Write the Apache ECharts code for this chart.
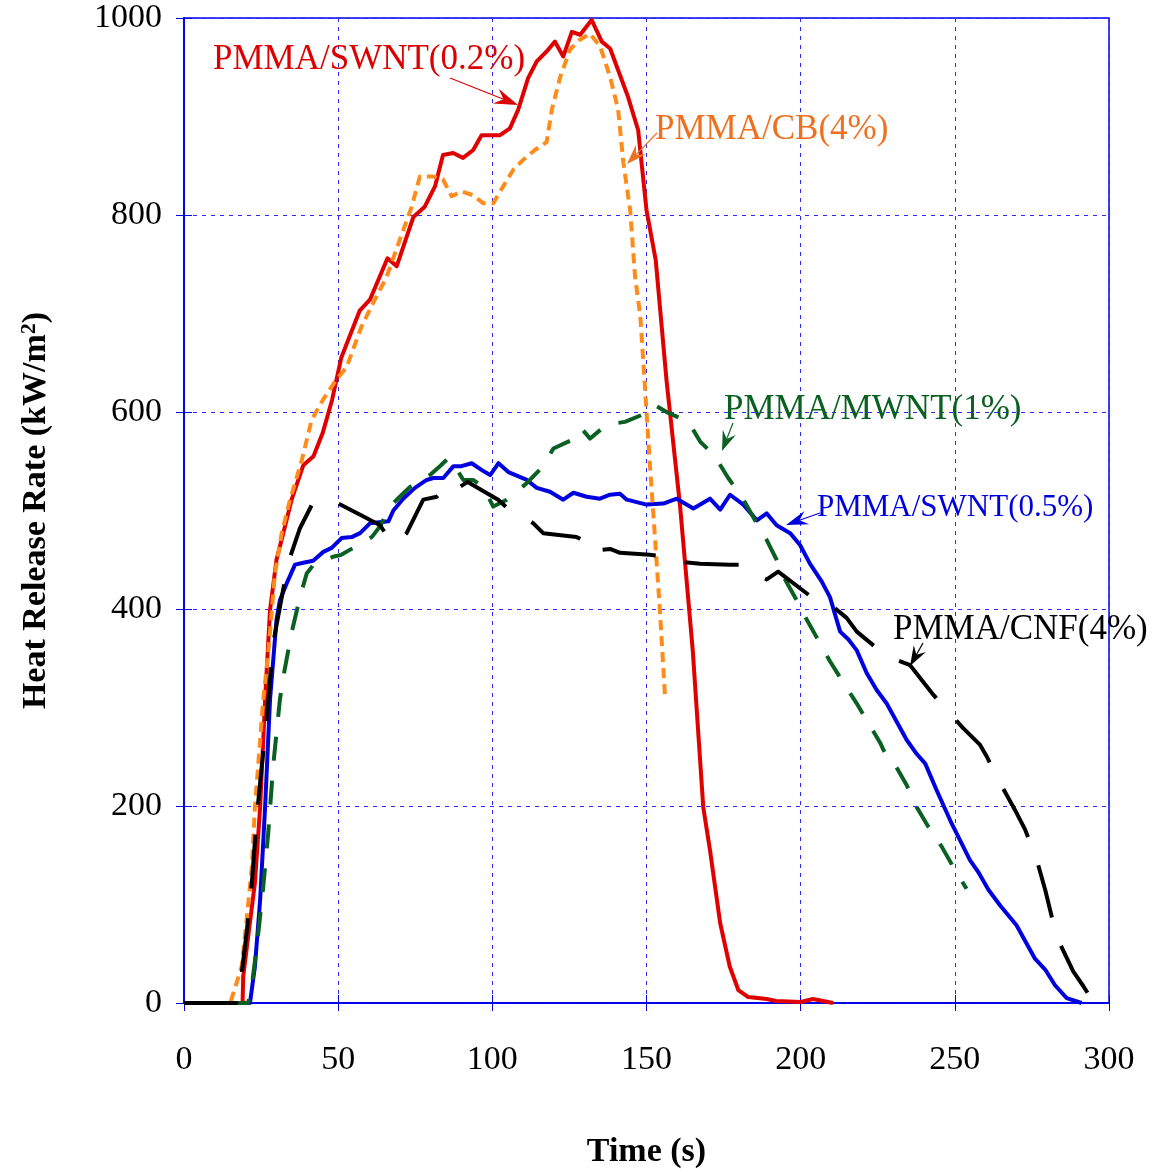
<!DOCTYPE html>
<html><head><meta charset="utf-8">
<script src="https://cdn.jsdelivr.net/npm/echarts@6/dist/echarts.min.js"></script>
<style>html,body{margin:0;padding:0;background:#fff}#c{width:1157px;height:1172px}</style>
</head><body><div id="c"></div>
<script>
// Time (s) vs Heat Release Rate (kW/m2)
const swnt02 = [[0,0],[19,0],[19.2,27],[23,122],[24.7,199],[26.3,308],[27.9,399],[30,450],[32.2,477],[34.9,511],[38.7,546],[42,555],[45,579],[48,612],[51,655],[57,703],[60.3,714],[66,756],[69,748],[74.4,798],[78,808],[81.4,829],[84,861],[87.3,863],[90.5,858],[93.8,866],[96.5,881],[102.5,881],[105.7,888],[108.4,907],[111.6,939],[114.4,956],[117.6,966],[120.3,976],[123,961],[125.8,986],[128.5,983],[132.2,998],[135.5,976],[138.2,969],[144,920],[147.3,886],[150,805],[153,754],[156.5,632],[160.9,504],[165,358],[168.4,199],[170.6,155],[173.9,81],[177,37],[179.8,13],[183,6],[189,4],[192,2],[200,1],[204,4],[210.5,0]];
const cb4 = [[0,0],[15,0],[18.7,37],[20.3,84],[22,138],[23,199],[24.7,267],[25.7,308],[27.3,355],[29.5,436],[31.7,477],[34.4,511],[38.2,551],[41.4,592],[45,612],[49,631],[52.8,646],[57.6,687],[61.4,711],[65.7,737],[70,775],[73.8,808],[76.5,839],[80.8,839],[84,836],[86.8,819],[90,824],[93.8,820],[97,812],[100.3,812],[103.5,829],[106.8,846],[110,856],[113.8,866],[117.6,874],[119.3,907],[122,940],[125.2,968],[128.4,978],[131.7,984],[135,971],[138.2,940],[140.8,907],[142.5,853],[144.7,805],[146.3,737],[148,697],[149.5,625],[151,551],[152.8,470],[154.4,396],[156,311]];
const cnf4 = [[0,0],[17,0],[18.7,30],[20.3,71],[22,122],[23.6,189],[25.2,240],[26.6,280],[28.9,365],[31.1,402],[33.8,447],[37.6,482],[42,509],[49.5,508],[57.6,495],[63.6,485],[66.3,472],[69,467],[72.2,477],[77.6,511],[82,514],[85.2,523],[87.3,529],[89.5,524],[92,529],[101.9,511],[105.7,500],[110,494],[113.3,487],[116.5,477],[127.3,473],[129.5,470],[132.2,457],[135,460],[138.2,461],[141.4,457],[151,455],[156.6,453],[160.9,448],[167.4,446],[177,445],[180.3,445],[185.7,435],[189,430],[192.7,438],[204,411],[210.6,402],[214.9,391],[218.2,377],[227.9,352],[235.5,343],[243,313],[252.7,279],[258.2,262],[260.4,250],[263.5,230],[269.5,196],[272.8,176],[276.6,145],[279.3,115],[281.4,88],[283.5,64],[288.4,32],[291.7,17],[293.9,6],[299.3,1],[300,0]];
const mwnt1 = [[0,0],[20.8,0],[22,17],[24.1,71],[25.7,118],[27.3,172],[28.9,240],[31.1,308],[32.2,331],[34.9,376],[37.6,412],[39.8,436],[42,445],[45,448],[48.3,453],[51,455],[58.2,468],[60.9,473],[63.6,484],[66.8,504],[70,514],[73.3,524],[79.8,536],[83,545],[85.7,553],[89,539],[90.6,531],[93.8,531],[97,524],[100.3,504],[104.7,511],[107.9,519],[111.2,528],[116.5,545],[119.8,563],[126.8,573],[129,583],[131.7,573],[137,587],[143,590],[150,599],[152.7,607],[157.1,599],[163.6,590],[167.4,570],[172.2,555],[176.5,533],[180.9,514],[185.2,490],[189,470],[192.2,450],[194.4,433],[198.7,409],[202,389],[206.3,365],[209.5,347],[213.9,325],[218.2,304],[222,284],[225.8,264],[227.9,250],[230.6,242],[234.4,221],[237.6,199],[241.4,179],[245.7,159],[249.5,138],[253.8,116]];
const swnt05 = [[0,0],[21.4,0],[23,37],[24.7,105],[26.3,199],[27.9,308],[30,389],[31.1,409],[33.3,426],[36,445],[38.7,447],[41.9,449],[45.2,458],[47.9,462],[51.1,472],[54.4,473],[57.1,477],[60.3,487],[66.3,489],[67.9,500],[71.1,512],[74.9,523],[78.7,531],[80.9,533],[84.1,533],[87.4,545],[90,545],[93.3,548],[96.6,541],[99.3,536],[102,548],[105.2,539],[111.2,531],[114.4,523],[118.7,519],[123,511],[126.3,518],[130.6,514],[134.9,512],[138.2,516],[141.4,517],[143.6,511],[150,506],[155.5,507],[159.8,512],[165.2,502],[170.6,512],[173.9,501],[177.1,516],[181.4,506],[185.8,490],[189,497],[192.2,485],[196.6,477],[199.8,465],[203,446],[206.8,428],[209.5,412],[212.8,377],[215.5,369],[218.2,358],[221.4,335],[224.6,318],[227.9,304],[234.4,267],[237.6,253],[240.4,243],[244.1,216],[249,182],[254.9,145],[257.6,133],[260.9,115],[264.7,99],[270,79],[276,45],[279.3,34],[282.5,18],[286.3,5],[291.1,0]];
const seriesNames = ['PMMA/SWNT(0.2%)','PMMA/CB(4%)','PMMA/MWNT(1%)','PMMA/SWNT(0.5%)','PMMA/CNF(4%)'];
const xRange = [0, 300, 50];
const yRange = [0, 1000, 200];

const FONT = 'Liberation Serif';
const chart = echarts.init(document.getElementById('c'), null, {renderer: 'canvas'});
const gridCol = '#2a2aff';

function axisCommon(){
  return {
    axisLine: {show: true, lineStyle: {color: '#0000ee', width: 1.5}},
    axisTick: {show: true, inside: true, length: 8, lineStyle: {color: '#0000ee', width: 1}},
    splitLine: {show: true, lineStyle: {color: gridCol, width: 1, type: [4, 5]}}
  };
}

function arrow(x1, y1, x2, y2, color, len, half, w){
  const L = Math.hypot(x2-x1, y2-y1), dx = (x2-x1)/L, dy = (y2-y1)/L, nx = -dy, ny = dx;
  const bx = x2 - dx*len, by = y2 - dy*len;
  const mx = x2 - dx*len*0.65, my = y2 - dy*len*0.65;
  return [
    {type: 'line', shape: {x1: x1, y1: y1, x2: mx, y2: my}, style: {stroke: color, lineWidth: w}, z: 100},
    {type: 'polygon', shape: {points: [[x2,y2],[bx+nx*half, by+ny*half],[mx,my],[bx-nx*half, by-ny*half]]}, style: {fill: color}, z: 100}
  ];
}
function label(text, x, y, color, size){
  return {type: 'text', x: x, y: y, z: 100, style: {text: text, fill: color, font: size + 'px "' + FONT + '"', textVerticalAlign: 'middle', textAlign: 'left'}};
}

const graphics = [].concat(
  label(seriesNames[0], 213, 60, '#dd0000', 35), arrow(450, 78, 518, 105, '#dd0000', 24, 8, 1.2),
  label(seriesNames[1], 655, 130, '#f07020', 35), arrow(657, 133, 627, 164, '#f07020', 20, 7, 1.2),
  label(seriesNames[2], 724, 410, '#0a6020', 35), arrow(733, 423, 722, 451, '#0a6020', 20, 7, 1.2),
  label(seriesNames[3], 817, 508, '#0000dd', 31), arrow(820, 513, 786, 525, '#0000dd', 22, 7, 1.2),
  label(seriesNames[4], 893, 630, '#000000', 35), arrow(923, 643, 910, 666, '#000000', 20, 7, 1.2)
);

function ser(name, data, color, width, type, z){
  return {name: name, type: 'line', data: data, showSymbol: false, symbol: 'none', z: z,
    lineStyle: {color: color, width: width, type: type, cap: 'butt', join: 'round'}, animation: false};
}

chart.setOption({
  animation: false,
  backgroundColor: '#fff',
  grid: {left: 184, right: 48, top: 18, bottom: 169, containLabel: false, outerBoundsMode: 'none',
    show: true, borderColor: '#0000ee', borderWidth: 1.5, backgroundColor: 'transparent'},
  xAxis: [Object.assign(axisCommon(), {
    type: 'value', min: xRange[0], max: xRange[1], interval: xRange[2], position: 'bottom',
    axisLabel: {fontFamily: FONT, fontSize: 34, color: '#000', margin: 40, formatter: v => String(v)},
    name: 'Time (s)', nameLocation: 'middle', nameGap: 132, nameMoveOverlap: false,
    nameTextStyle: {fontFamily: FONT, fontSize: 34, fontWeight: 'bold', color: '#000'}
  }), Object.assign(axisCommon(), {
    type: 'value', min: xRange[0], max: xRange[1], interval: xRange[2], position: 'top',
    axisLabel: {show: false}, splitLine: {show: false}
  })],
  yAxis: [Object.assign(axisCommon(), {
    type: 'value', min: yRange[0], max: yRange[1], interval: yRange[2], position: 'left',
    axisLabel: {fontFamily: FONT, fontSize: 34, color: '#000', margin: 22, formatter: v => String(v)},
    name: 'Heat Release Rate (kW/m{sup|2})', nameLocation: 'middle', nameGap: 130, nameMoveOverlap: false,
    nameTextStyle: {fontFamily: FONT, fontSize: 34, fontWeight: 'bold', color: '#000',
      rich: {sup: {fontFamily: FONT, fontSize: 22, fontWeight: 'bold', color: '#000', verticalAlign: 'top', padding: [0,0,14,0]}}}
  }), Object.assign(axisCommon(), {
    type: 'value', min: yRange[0], max: yRange[1], interval: yRange[2], position: 'right',
    axisLabel: {show: false}, splitLine: {show: false}
  })],
  series: [
    ser(seriesNames[0], swnt02, '#e00000', 4, 'solid', 2),
    ser(seriesNames[3], swnt05, '#0000e0', 4, 'solid', 3),
    ser(seriesNames[2], mwnt1, '#0a6020', 4, [24, 20], 4),
    ser(seriesNames[1], cb4, '#ff8c1a', 4, [10, 6], 5),
    ser(seriesNames[4], cnf4, '#000000', 4, [54, 30], 6)
  ],
  graphic: graphics
});
</script></body></html>
